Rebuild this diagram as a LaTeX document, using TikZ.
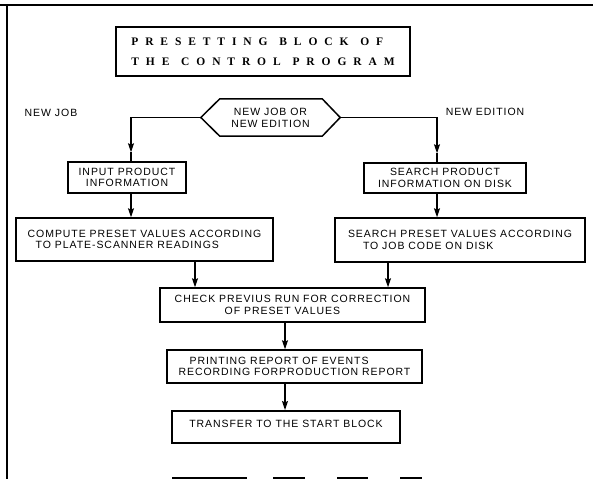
\documentclass[tikz,border=0pt]{standalone}
\usepackage{fontspec}
\setmainfont{Liberation Sans}
\newfontfamily\boxfont{Liberation Sans}[LetterSpace=9]
\newfontfamily\titlefont{Liberation Serif}[LetterSpace=60]
\newcommand\headingstyle{\titlefont\bfseries\fontsize{11.5}{20}\selectfont}
\newcommand\wordgap{\hspace{2pt} }
\usetikzlibrary{arrows.meta}

\tikzset{
  box/.style={draw, line width=1.5pt, inner sep=0pt, align=center,
    font=\boxfont\fontsize{10.5}{11.5}\selectfont},
  lbl/.style={inner sep=0pt, font=\boxfont\fontsize{10.5}{12}\selectfont},
  conn/.style={line width=1.2pt, -{Stealth[length=9pt,width=6pt,inset=1.5pt]}},
  plain/.style={line width=1.2pt},
  frame/.style={line width=1.6pt}
}

\begin{document}
\begin{tikzpicture}[x=1pt,y=-1pt]
\useasboundingbox (0,0) rectangle (593,480);

% outer frame
\draw[frame] (0,5) -- (593,5);
\draw[frame] (7,5) -- (7,479);
\draw[frame] (172,478) -- (247,478);
\draw[frame] (273,478) -- (305,478);
\draw[frame] (337,478) -- (368,478);
\draw[frame] (400,478) -- (422,478);

% heading
\node[draw, line width=1.6pt, minimum width=294, minimum height=49, inner sep=0pt,
      align=left, font=\headingstyle]
  (title) at (263,51.5)
  {PRESETTING\wordgap BLOCK\wordgap OF\\THE\wordgap CONTROL\wordgap PROGRAM};

% branch test
\node[minimum width=139, minimum height=37, inner sep=0pt, align=center,
      font=\boxfont\fontsize{10.5}{12}\selectfont]
  (hex) at (270.5,117.5) {NEW JOB OR\\NEW EDITION};
\draw[line width=1.5pt, line join=miter] (hex.west) -- ([xshift=19pt]hex.north west)
  -- ([xshift=-18pt]hex.north east) -- (hex.east)
  -- ([xshift=-18pt]hex.south east) -- ([xshift=19pt]hex.south west) -- cycle;

\node[lbl] (lnew) at (51,113) {NEW JOB};
\node[lbl] (ledit) at (485,112) {NEW EDITION};

% process blocks
\node[box, minimum width=118, minimum height=31] (input) at (127,177.5)
  {INPUT PRODUCT\\INFORMATION};
\node[box, minimum width=162, minimum height=30] (sprod) at (445,178)
  {SEARCH PRODUCT\\INFORMATION ON DISK};
\node[box, minimum width=257, minimum height=43, align=left] (compute) at (144.5,239.5)
  {COMPUTE PRESET VALUES ACCORDING\\\hspace*{8pt}TO PLATE-SCANNER READINGS};
\node[box, minimum width=250, minimum height=44, align=left] (spreset) at (460,240)
  {SEARCH PRESET VALUES ACCORDING\\\hspace*{15pt}TO JOB CODE ON DISK};
\node[box, minimum width=265, minimum height=34, align=left] (check) at (292.5,305)
  {CHECK PREVIUS RUN FOR CORRECTION\\\hspace*{50pt}OF PRESET VALUES};
\node[box, minimum width=255, minimum height=33, align=left] (print) at (294.5,366.5)
  {\hspace*{11pt}PRINTING REPORT OF EVENTS\\RECORDING FORPRODUCTION REPORT};
\node[box, minimum width=228, text height=12.6pt, text depth=11.4pt, inner ysep=4pt,
      anchor=north] (transfer) at (286,410) {TRANSFER TO THE START BLOCK};

% branches from the test
\coordinate (tl) at ([xshift=4pt,yshift=9pt]input.north);
\coordinate (tr) at ([xshift=-8pt,yshift=9pt]sprod.north);
\draw[conn] (hex.west) -| (tl);
\draw[plain] (tl) -- (tl |- input.north);
\draw[conn] (hex.east) -| (tr);
\draw[plain] (tr) -- (tr |- sprod.north);

% flow between blocks
\coordinate (a1) at ([xshift=4pt]input.south);
\draw[conn] (a1) -- (a1 |- compute.north);
\coordinate (a2) at ([xshift=-8pt]sprod.south);
\draw[conn] (a2) -- (a2 |- spreset.north);
\coordinate (a3) at ([xshift=50.5pt]compute.south);
\draw[conn] (a3) -- (a3 |- check.north);
\coordinate (a4) at ([xshift=-72pt]spreset.south);
\draw[conn] (a4) -- (a4 |- check.north);
\coordinate (a5) at ([xshift=-7.5pt]check.south);
\draw[conn] (a5) -- (a5 |- print.north);
\coordinate (a6) at (a5 |- print.south);
\draw[conn] (a6) -- (a6 |- transfer.north);
\end{tikzpicture}
\end{document}
